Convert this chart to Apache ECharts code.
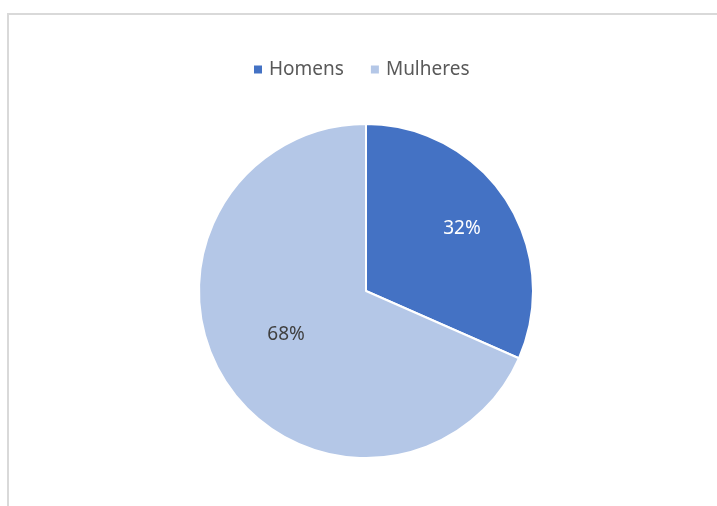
<!DOCTYPE html>
<html>
<head>
<meta charset="utf-8">
<script src="https://cdn.jsdelivr.net/npm/echarts@6/dist/echarts.min.js"></script>
<style>
html,body{margin:0;padding:0;background:#fff;}
#chart{width:717px;height:506px;}
</style>
</head>
<body>
<div id="chart"></div>
<script>
const categories = ['Homens', 'Mulheres'];
const values = [31.6, 68.4];
const colors = ['#4472C4', '#B4C7E7'];
const labelColors = ['#FFFFFF', '#404040'];

const chart = echarts.init(document.getElementById('chart'), null, {renderer: 'canvas'});
const labelShift = [[23.5, -15], [-7.5, -3.8]];
chart.setOption({
  animation: false,
  backgroundColor: '#ffffff',
  graphic: [{
    type: 'rect',
    shape: {x: 8, y: 14, width: 900, height: 700},
    style: {fill: 'none', stroke: '#D9D9D9', lineWidth: 2},
    silent: true
  }],
  legend: {
    data: categories,
    top: 60,
    left: 252,
    padding: 0,
    icon: 'rect',
    itemWidth: 10,
    itemHeight: 10,
    itemGap: 25,
    textStyle: {fontFamily: 'Noto Sans', fontSize: 19, color: '#595959', padding: [0, 0, 0, 1]}
  },
  series: [{
    type: 'pie',
    center: [366, 291],
    radius: 167,
    startAngle: 90,
    clockwise: true,
    itemStyle: {borderColor: '#ffffff', borderWidth: 2},
    label: {
      show: true,
      position: 'inside',
      formatter: function (p) { return Math.round(p.percent) + '%'; },
      fontFamily: 'Noto Sans',
      fontSize: 19
    },
    labelLine: {show: false},
    emphasis: {disabled: true},
    labelLayout: function (p) {
      const s = labelShift[p.dataIndex];
      return {dx: s[0], dy: s[1]};
    },
    data: categories.map((c, i) => ({
      name: c,
      value: values[i],
      itemStyle: {color: colors[i]},
      label: {color: labelColors[i]}
    }))
  }]
});
</script>
</body>
</html>
